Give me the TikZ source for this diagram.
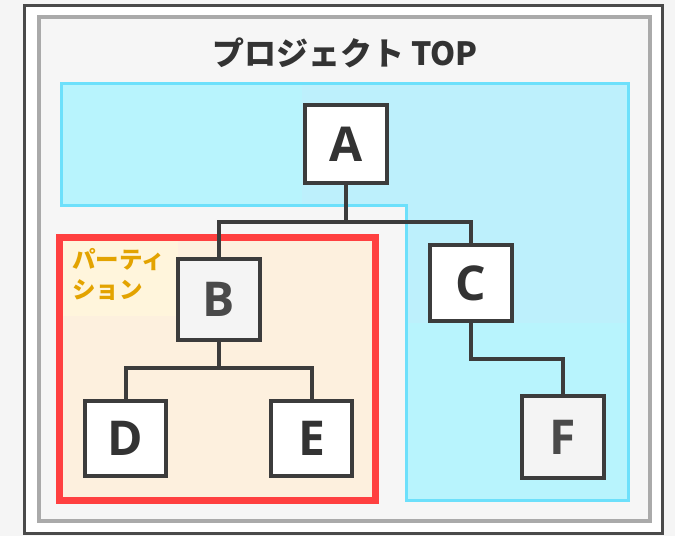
\documentclass[tikz,border=0pt]{standalone}
\usepackage{fontspec}
\newfontfamily\jp{Noto Sans CJK JP}
\newfontfamily\lt{Open Sans}
\definecolor{bgc}{HTML}{F5F5F5}
\definecolor{framedark}{HTML}{4A4A4A}
\definecolor{framegray}{HTML}{AAAAAA}
\definecolor{innerbg}{HTML}{F6F6F6}
\definecolor{cyanfill}{HTML}{B8F4FD}
\definecolor{cyanfilltwo}{HTML}{BDF0FC}
\definecolor{cyanedge}{HTML}{6DE0FB}
\definecolor{redc}{HTML}{FF4040}
\definecolor{partfill}{HTML}{FDF0DE}
\definecolor{labelbg}{HTML}{FFF5DC}
\definecolor{labelc}{HTML}{E3A300}
\definecolor{linec}{HTML}{3C3C3C}
\definecolor{txtc}{HTML}{333333}
\definecolor{txtgray}{HTML}{4A4A4A}
\definecolor{boxgray}{HTML}{F4F4F4}
\tikzset{
  treenode/.style={draw=linec, line width=4pt, fill=white, inner sep=0pt,
    minimum width=82pt, minimum height=78pt,
    font=\lt\bfseries\fontsize{48}{48}\selectfont, text=txtc},
  graynode/.style={treenode, fill=boxgray, text=txtgray},
  conn/.style={draw=linec, line width=4pt},
}
\begin{document}
\begin{tikzpicture}[x=1pt,y=-1pt]
\useasboundingbox (0,0) rectangle (675,536);
\fill[bgc] (0,0) rectangle (675,536);
% frames
\draw[framedark, line width=3pt, fill=white] (24,5) rectangle (662,533);
\draw[framegray, line width=4pt, fill=innerbg] (39,17) rectangle (650,521);
% title
\node[font=\jp\bfseries\fontsize{32}{32}\selectfont, text=txtc] (title) at (345,53) {プロジェクト TOP};
% cyan region
\fill[cyanfill] (61,83) -- (628,83) -- (628,500) -- (406,500) -- (406,205) -- (61,205) -- cycle;
\begin{scope}
\clip (61,83) -- (628,83) -- (628,500) -- (406,500) -- (406,205) -- (61,205) -- cycle;
\fill[cyanfilltwo] (302,85) rectangle (626,323);
\end{scope}
\draw[cyanedge, line width=3pt] (61,83) -- (628,83) -- (628,500) -- (406,500) -- (406,205) -- (61,205) -- cycle;
% partition
\draw[redc, line width=7pt, fill=partfill] (59,237) rectangle (375,500);
\fill[labelbg] (63,241) rectangle (178,316);
\node[anchor=north west, align=left, inner sep=0pt, text=labelc,
  font=\jp\bfseries\fontsize{23.5}{30}\selectfont] (plabel) at (72,248) {パーティ\\ション};
% nodes
\node[treenode] (A) at (346,144) {A};
\node[graynode, minimum height=81pt] (B) at (219,299.5) {B};
\node[treenode, minimum width=81pt, minimum height=75pt] (D) at (125.5,438.5) {D};
\node[treenode, minimum width=81pt, minimum height=75pt] (E) at (311.5,438.5) {E};
\node[treenode, minimum height=76pt] (C) at (471,283) {C};
\node[graynode, minimum height=82pt] (F) at (563,437) {F};
% connectors
\coordinate (jA) at (346,222);
\coordinate (jB) at (219,368);
\coordinate (jC) at (471,359);
\draw[conn] (A) -- (jA) -| (B);
\draw[conn] (jA) -| (C);
\draw[conn] (B) -- (jB) -| (D);
\draw[conn] (jB) -| (E);
\draw[conn] (C) -- (jC) -| (F);
\end{tikzpicture}
\end{document}
